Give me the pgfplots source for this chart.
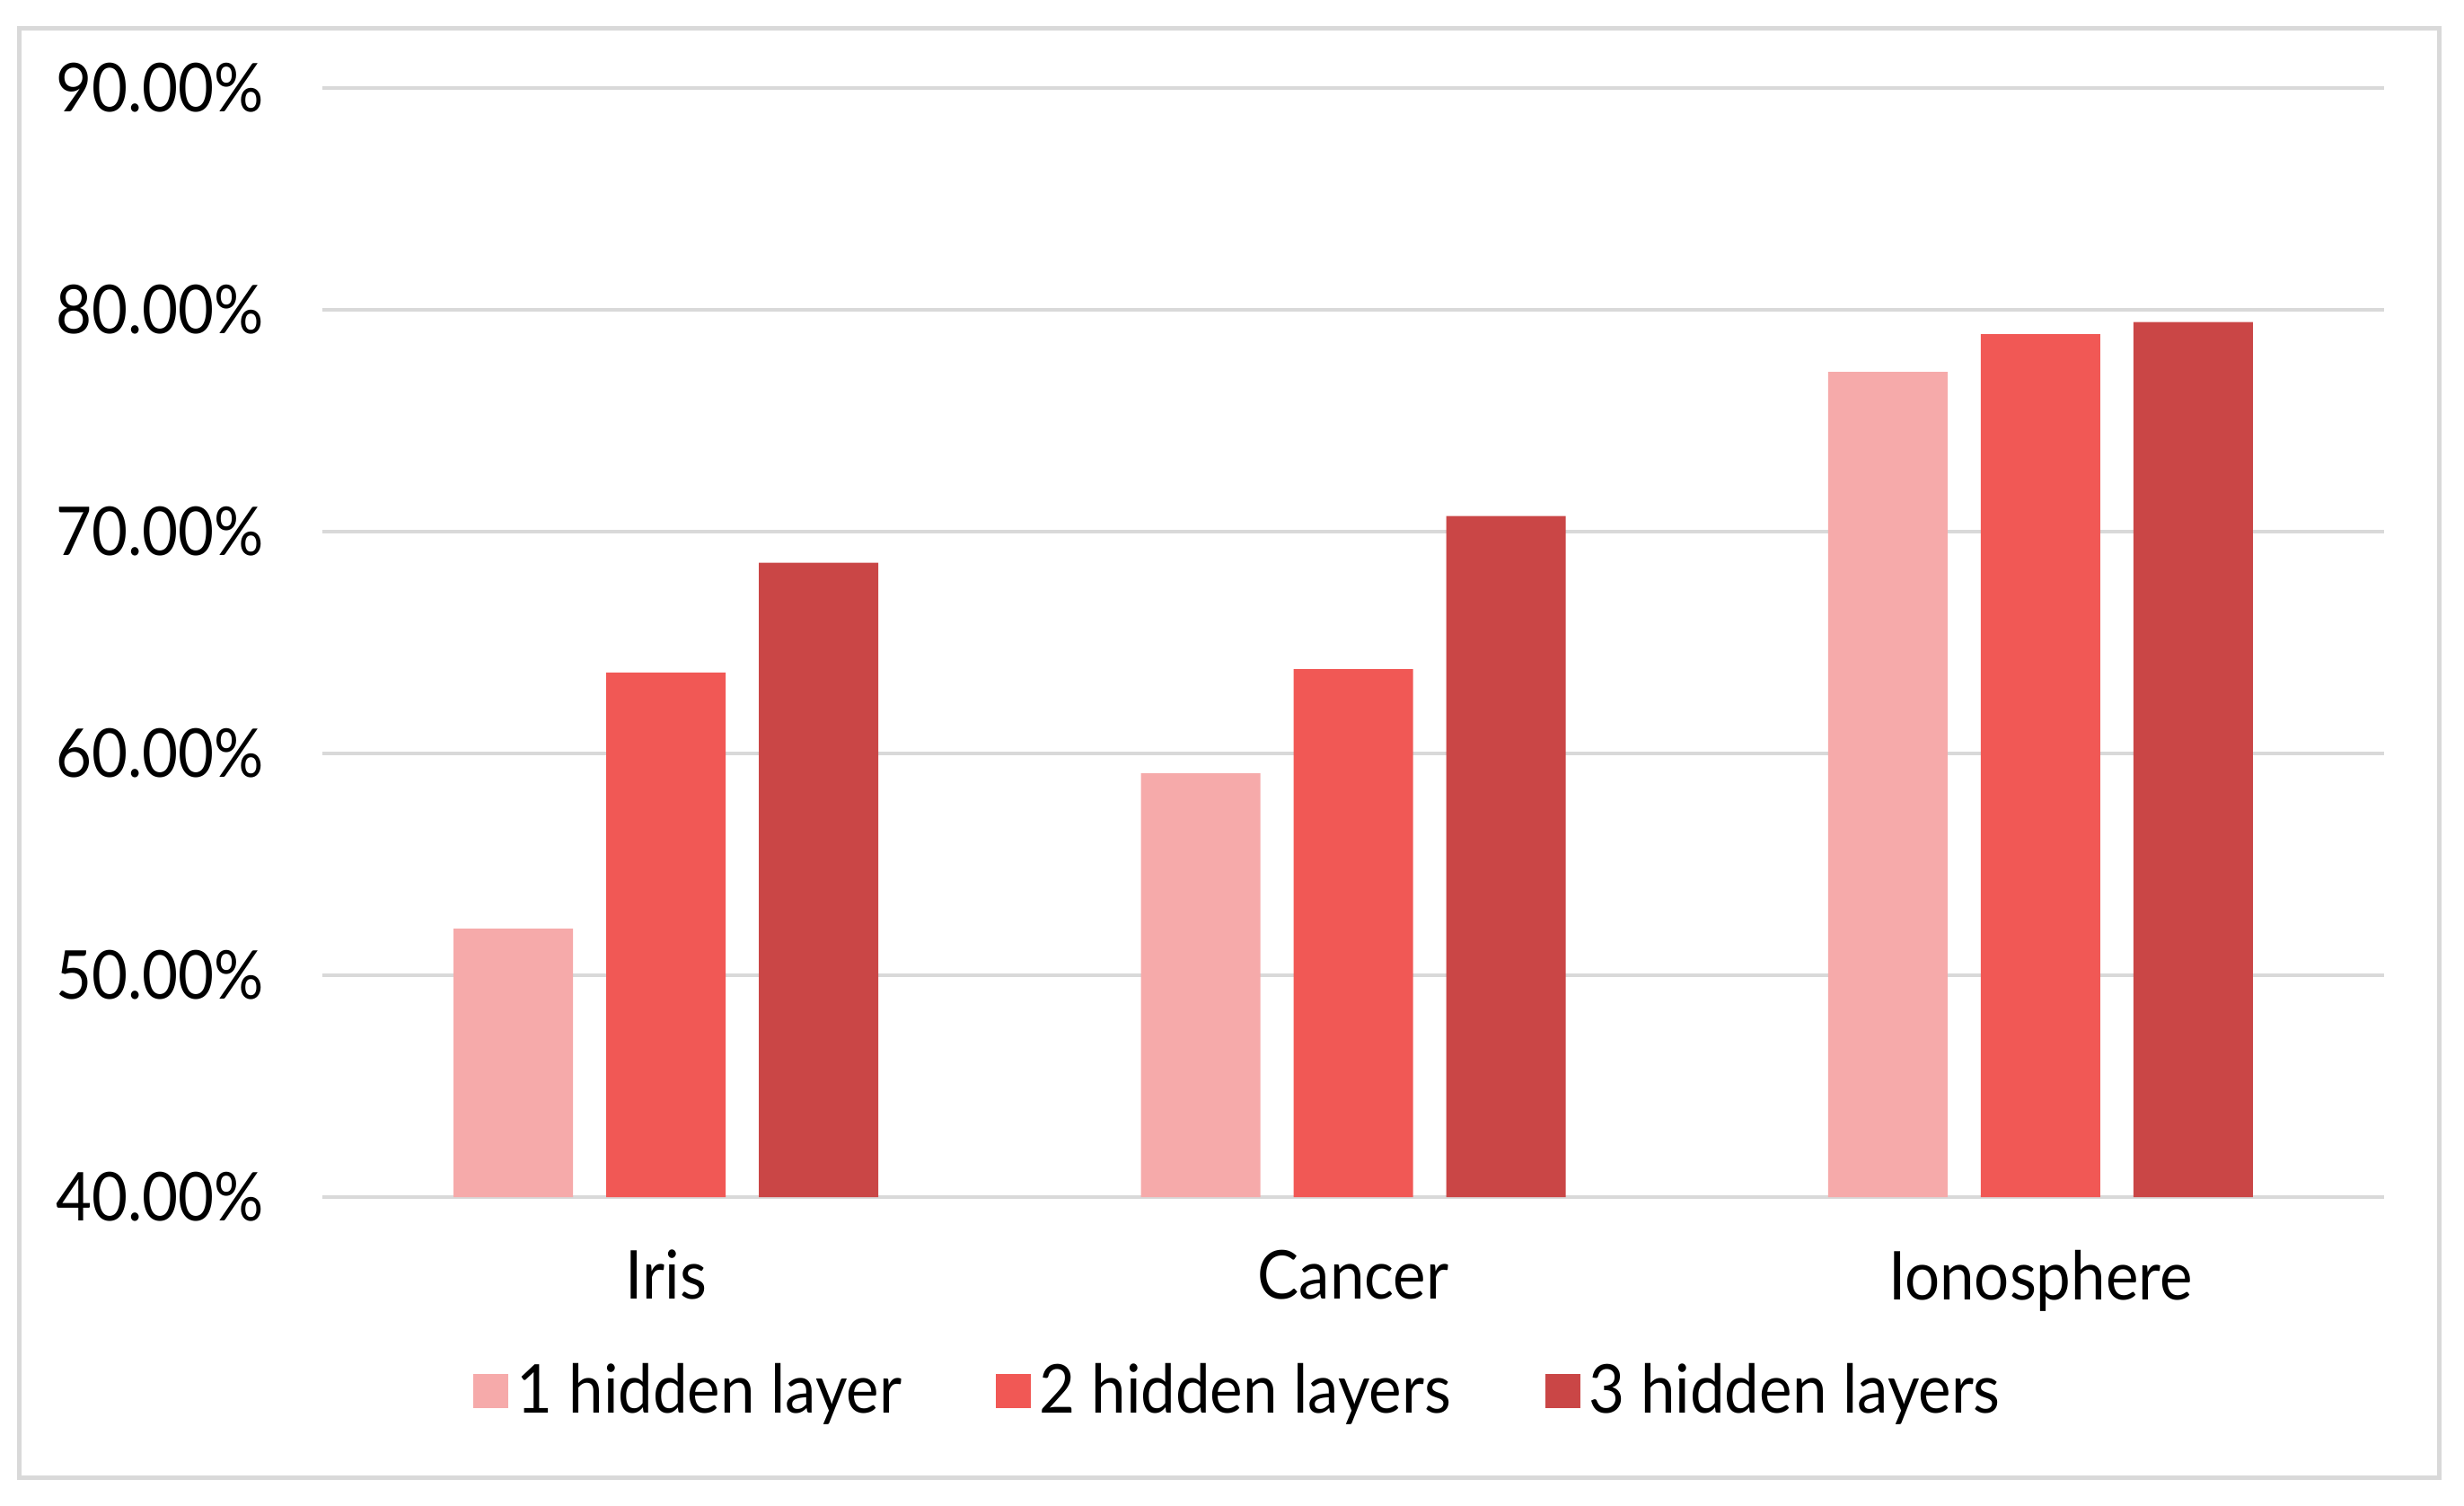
\documentclass[border=0pt]{standalone}
\usepackage{pgfplots}
\pgfplotsset{compat=1.18}
\usepackage{fontspec}
\setmainfont{Lato}[FakeStretch=0.92]
\definecolor{c1}{RGB}{246,170,170}
\definecolor{c2}{RGB}{241,88,85}
\definecolor{c3}{RGB}{202,70,70}
\definecolor{gridc}{RGB}{217,217,217}
\begin{document}
\begin{tikzpicture}
\path[use as bounding box] (0,0) rectangle (548.8pt,335.2pt);
\draw[color=gridc, line width=1pt] (4.2pt,6.2pt) rectangle (543.2pt,328.8pt);
\begin{axis}[
  at={(71.8pt,68.6pt)}, anchor=south west,
  scale only axis, width=459.2pt, height=247pt,
  ybar=7.4pt, bar width=26.6pt,
  xmin=-0.5, xmax=2.5, ymin=40, ymax=90,
  xtick={0,1,2}, xticklabels={Iris,Cancer,Ionosphere},
  ytick={40,50,60,70,80,90},
  yticklabels={40.00\%,50.00\%,60.00\%,70.00\%,80.00\%,90.00\%},
  /pgf/number format/assume math mode=true,
  tick style={draw=none},
  axis line style={draw=none},
  ymajorgrids, grid style={gridc, line width=0.8pt},
  ticklabel style={font=\fontsize{15}{18}\selectfont},
  yticklabel style={xshift=-9.5pt},
  xticklabel style={yshift=-4pt},
  legend columns=3,
  legend style={at={(0.4458,-0.175)}, anchor=center, draw=none, fill=none,
    font=\fontsize{15}{18}\selectfont,
    /tikz/every even column/.append style={column sep=19pt}},
  legend image code/.code={\fill[#1] (-1.5pt,-3.85pt) rectangle (6.2pt,3.85pt);},
]
\addplot[fill=c1, draw=none] coordinates {(0,52.1) (1,59.1) (2,77.2)};
\addplot[fill=c2, draw=none] coordinates {(0,63.65) (1,63.8) (2,78.9)};
\addplot[fill=c3, draw=none] coordinates {(0,68.6) (1,70.7) (2,79.45)};
\legend{1 hidden layer,2 hidden layers,3 hidden layers}
\end{axis}
\end{tikzpicture}
\end{document}
